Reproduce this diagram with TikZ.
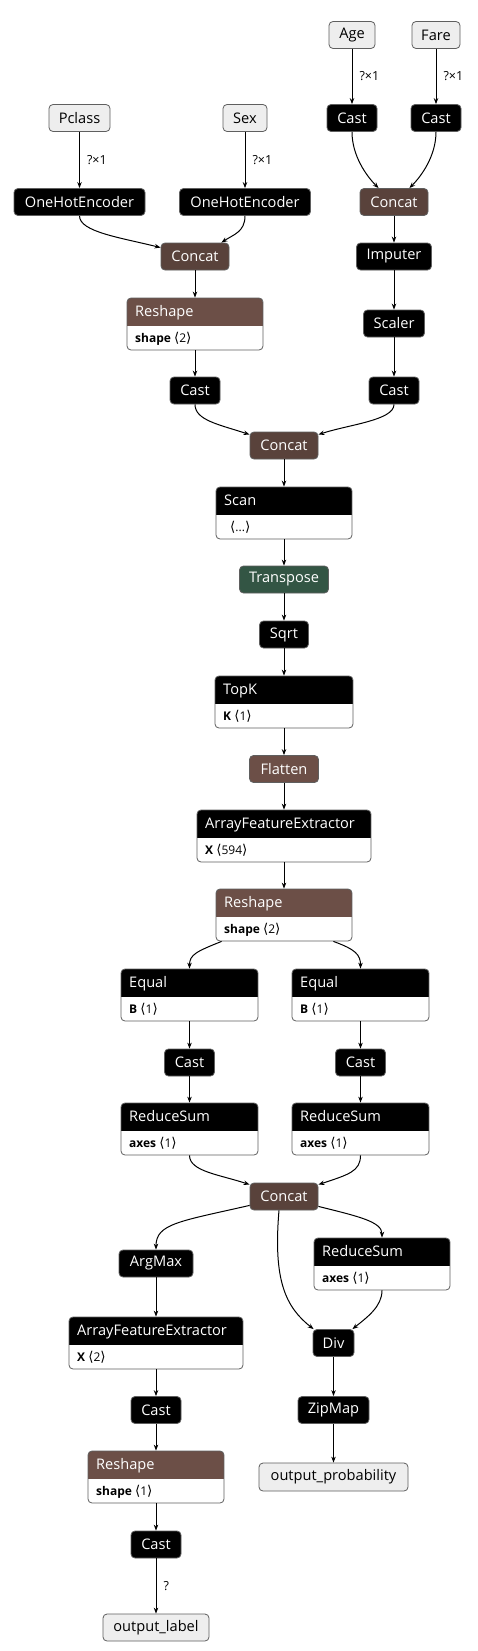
\documentclass[tikz,border=0pt]{standalone}
\usepackage{fontspec}
\setmainfont{Open Sans}
\newfontfamily\brfont{DejaVu Sans}
\usetikzlibrary{arrows.meta}
\definecolor{bordergray}{RGB}{95,95,95}
\definecolor{tensorc}{RGB}{89,66,59}
\definecolor{shapec}{RGB}{108,79,71}
\definecolor{transc}{RGB}{51,85,68}
\definecolor{iofill}{RGB}{238,238,238}
\newcommand{\opfont}{\fontsize{14.6}{16}\selectfont}
\newcommand{\atfont}{\fontsize{12}{13}\selectfont}
\newcommand{\lbfont}{\fontsize{12.5}{14}\selectfont}
\newcommand{\av}[1]{{\brfont\fontsize{13.5}{14}\selectfont ⟨}#1{\brfont\fontsize{13.5}{14}\selectfont ⟩}}
\tikzset{
  basebox/.style={rounded corners=4pt, draw=bordergray, line width=0.8pt, minimum height=27pt, inner sep=0pt, font=\opfont},
  opnode/.style={basebox, fill=black, text=white},
  tensornode/.style={basebox, fill=tensorc, text=white},
  shapenode/.style={basebox, fill=shapec, text=white},
  transnode/.style={basebox, fill=transc, text=white},
  ionode/.style={basebox, fill=iofill, text=black},
  edge/.style={line width=1pt, -{Stealth[length=6pt,width=4.5pt]}},
  elab/.style={right, font=\lbfont, inner sep=0pt, xshift=7pt}
}
% name, cx, top, width, color, title, attribute
\newcommand{\attrbox}[7]{%
  \begin{scope}
    \clip[rounded corners=4pt] (#2-#4/2,#3) rectangle (#2+#4/2,#3+52);
    \fill[#5] (#2-#4/2,#3) rectangle (#2+#4/2,#3+28);
    \fill[white] (#2-#4/2,#3+28) rectangle (#2+#4/2,#3+52);
  \end{scope}
  \node[draw=bordergray, line width=0.8pt, rounded corners=4pt, minimum width=#4pt, minimum height=52pt, inner sep=0pt] (#1) at (#2,#3+26) {};
  \node[anchor=base west, text=white, font=\opfont, inner sep=0pt] (#1-t) at (#2-#4/2+8,#3+18.5) {#6};
  \node[anchor=base west, font=\atfont, inner sep=0pt] (#1-a) at (#2-#4/2+8,#3+44) {#7};
}
\begin{document}
\begin{tikzpicture}[x=1pt,y=-1pt]
\fill[white] (0,0) rectangle (478,1651);
\useasboundingbox (0,0) rectangle (478,1651);

% inputs
\node[ionode, minimum width=46pt] (age) at (352,35) {Age};
\node[ionode, minimum width=48pt] (fare) at (436,35) {Fare};
\node[opnode, minimum width=50pt] (casta) at (352,118) {Cast};
\node[opnode, minimum width=50pt] (castf) at (436,118) {Cast};
\node[ionode, minimum width=61pt] (pclass) at (79.5,118) {Pclass};
\node[ionode, minimum width=44pt] (sex) at (245,118) {Sex};
\node[opnode, minimum width=131pt] (ohe1) at (79.5,202) {OneHotEncoder};
\node[opnode, minimum width=131pt] (ohe2) at (245,202) {OneHotEncoder};
\node[tensornode, minimum width=68pt] (concr) at (394,202) {Concat};
\node[tensornode, minimum width=68pt] (concl) at (195,256.5) {Concat};
\node[opnode, minimum width=75pt] (imputer) at (394,256.5) {Imputer};
\attrbox{rs1}{195}{298}{136}{shapec}{Reshape}{\textbf{shape}~\av{2}}
\node[opnode, minimum width=61pt] (scaler) at (394,323.5) {Scaler};
\node[opnode, minimum width=50pt] (castl) at (195,390.5) {Cast};
\node[opnode, minimum width=50pt] (castr) at (394,390.5) {Cast};
\node[tensornode, minimum width=68pt] (concm) at (284,445.5) {Concat};
\attrbox{scan}{284}{487}{136}{black}{Scan}{\hspace*{6pt}\av{...}}
\node[transnode, minimum width=89pt] (transp) at (284,579.5) {Transpose};
\node[opnode, minimum width=49pt] (sqrt) at (284,634.5) {Sqrt};
\attrbox{topk}{284}{676}{138}{black}{TopK}{\textbf{K}~\av{1}}
\node[shapenode, minimum width=69pt] (flatten) at (284,769) {Flatten};
\attrbox{afe1}{284}{810}{174}{black}{ArrayFeatureExtractor}{\textbf{X}~\av{594}}
\attrbox{rs2}{284}{889}{136}{shapec}{Reshape}{\textbf{shape}~\av{2}}
\attrbox{eql}{189.5}{969}{137}{black}{Equal}{\textbf{B}~\av{1}}
\attrbox{eqr}{360.5}{969}{137}{black}{Equal}{\textbf{B}~\av{1}}
\node[opnode, minimum width=50pt] (cast2l) at (189.5,1062.5) {Cast};
\node[opnode, minimum width=50pt] (cast2r) at (360.5,1062.5) {Cast};
\attrbox{rsuml}{189.5}{1103}{137}{black}{ReduceSum}{\textbf{axes}~\av{1}}
\attrbox{rsumr}{360.5}{1103}{137}{black}{ReduceSum}{\textbf{axes}~\av{1}}
\node[tensornode, minimum width=68pt] (concb) at (284,1196.5) {Concat};
\node[opnode, minimum width=74pt] (argmax) at (156,1263.5) {ArgMax};
\attrbox{rsum3}{382}{1238}{136}{black}{ReduceSum}{\textbf{axes}~\av{1}}
\attrbox{afe2}{156}{1317}{174}{black}{ArrayFeatureExtractor}{\textbf{X}~\av{2}}
\node[opnode, minimum width=41pt] (div) at (333.5,1343) {Div};
\node[opnode, minimum width=50pt] (cast3) at (156,1410) {Cast};
\node[opnode, minimum width=71pt] (zipmap) at (333.5,1410) {ZipMap};
\attrbox{rs3}{156}{1451}{136}{shapec}{Reshape}{\textbf{shape}~\av{1}}
\node[ionode, minimum width=149pt, minimum height=28pt] (probout) at (333.5,1477) {output\_probability};
\node[opnode, minimum width=50pt] (cast4) at (156,1544.5) {Cast};
\node[ionode, minimum width=106pt] (labelout) at (156,1627.5) {output\_label};

% edges
\draw[edge] (age) -- node[elab]{?×1} (casta);
\draw[edge] (fare) -- node[elab]{?×1} (castf);
\draw[edge] (pclass) -- node[elab]{?×1} (ohe1);
\draw[edge] (sex) -- node[elab]{?×1} (ohe2);
\draw[edge] (casta.south) .. controls +(0,24) and +(-12,-12) .. ([xshift=19pt]concr.north west);
\draw[edge] (castf.south) .. controls +(0,24) and +(12,-12) .. ([xshift=-19pt]concr.north east);
\draw[edge] (ohe1.south) .. controls +(0,16) and +(-40,-10) .. ([yshift=-5pt]concl.north west);
\draw[edge] (ohe2.south) .. controls +(0,16) and +(12,-8) .. ([xshift=-8pt]concl.north east);
\draw[edge] (concr) -- (imputer);
\draw[edge] (imputer) -- (scaler);
\draw[edge] (concl) -- (rs1);
\draw[edge] (scaler) -- (castr);
\draw[edge] (rs1) -- (castl);
\draw[edge] (castl.south) .. controls +(0,16) and +(-30,-10) .. ([yshift=-3pt]concm.north west);
\draw[edge] (castr.south) .. controls +(0,16) and +(30,-10) .. ([yshift=-3pt]concm.north east);
\draw[edge] (concm) -- (scan);
\draw[edge] (scan) -- (transp);
\draw[edge] (transp) -- (sqrt);
\draw[edge] (sqrt) -- (topk);
\draw[edge] (topk) -- (flatten);
\draw[edge] (flatten) -- (afe1);
\draw[edge] (afe1) -- (rs2);
\draw[edge] ([xshift=6pt]rs2.south west) .. controls +(-25,10) and +(0,-14) .. (eql.north);
\draw[edge] ([xshift=-19pt]rs2.south east) .. controls +(22,8) and +(0,-14) .. (eqr.north);
\draw[edge] (eql) -- (cast2l);
\draw[edge] (eqr) -- (cast2r);
\draw[edge] (cast2l) -- (rsuml);
\draw[edge] (cast2r) -- (rsumr);
\draw[edge] (rsuml.south) .. controls +(0,16) and +(-30,-10) .. ([yshift=-2pt]concb.north west);
\draw[edge] (rsumr.south) .. controls +(0,16) and +(30,-10) .. ([yshift=-2pt]concb.north east);
\draw[edge] ([yshift=5pt]concb.south west) .. controls +(-70,16) and +(0,-26) .. (argmax.north);
\draw[edge] ([yshift=4pt]concb.south east) .. controls +(40,10) and +(0,-16) .. (rsum3.north);
\draw[edge] ([xshift=-5pt]concb.south) .. controls +(-6,70) and +(-28,-22) .. ([xshift=1pt]div.north west);
\draw[edge] (rsum3.south) .. controls +(0,16) and +(15,-12) .. ([xshift=-2pt]div.north east);
\draw[edge] (argmax) -- (afe2);
\draw[edge] (afe2) -- (cast3);
\draw[edge] (div) -- (zipmap);
\draw[edge] (cast3) -- (rs3);
\draw[edge] (zipmap) -- (probout);
\draw[edge] (rs3) -- (cast4);
\draw[edge] (cast4) -- node[elab]{?} (labelout);
\end{tikzpicture}
\end{document}
